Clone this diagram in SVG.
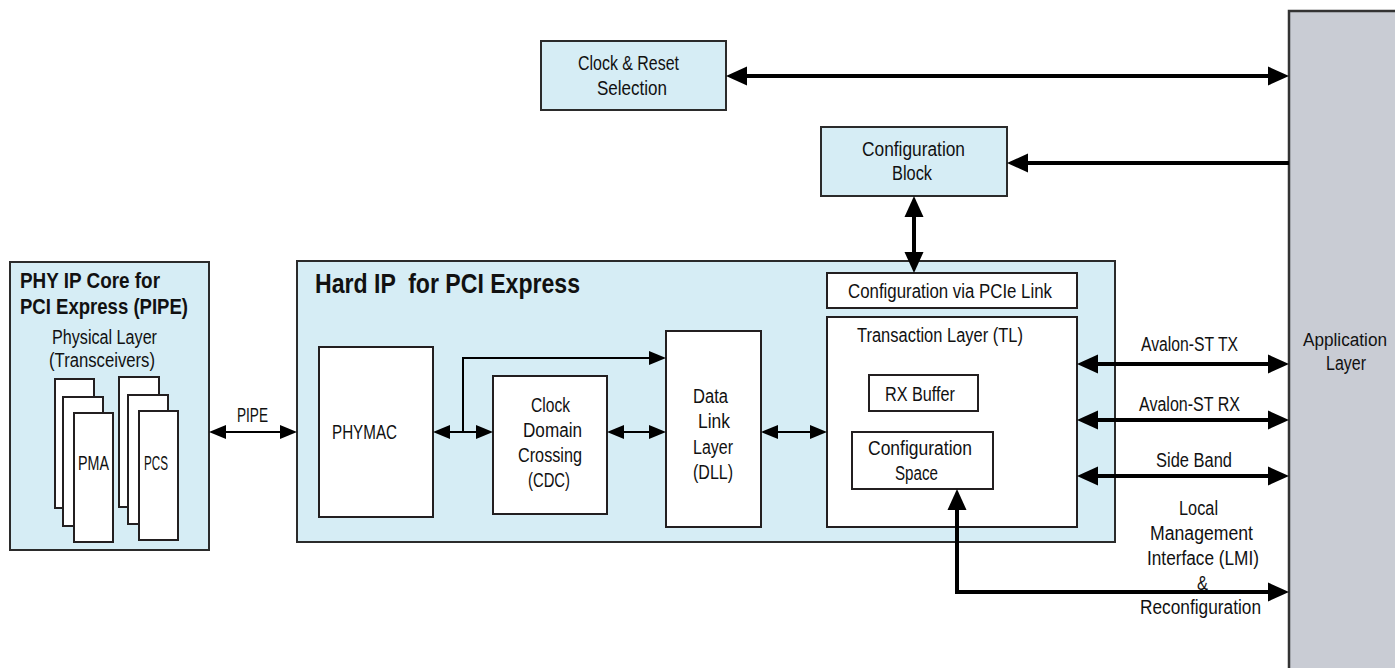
<svg xmlns="http://www.w3.org/2000/svg" width="1395" height="668" viewBox="0 0 1395 668">
<defs>
<style>
.t{font-family:"Liberation Sans Narrow","Liberation Sans",Arial,sans-serif;font-size:20px;fill:#111}
.b{font-family:"Liberation Sans Narrow","Liberation Sans",Arial,sans-serif;font-weight:bold;fill:#111}
.blue{fill:#d6edf5;stroke:#2b2b2b;stroke-width:2}
.wht{fill:#fff;stroke:#231f20;stroke-width:2}
.app{fill:#c9ccd4;stroke:#333;stroke-width:2.5}
.thin{fill:none;stroke:#000;stroke-width:2}
.thick{fill:none;stroke:#000;stroke-width:4}
</style>
<marker id="ah" markerUnits="userSpaceOnUse" markerWidth="18" markerHeight="16" refX="1" refY="7" orient="auto-start-reverse" viewBox="0 0 18 14">
<path d="M0,0 L17,7 L0,14 z" fill="#000"/>
</marker>
<marker id="AH" markerUnits="userSpaceOnUse" markerWidth="22" markerHeight="20" refX="1" refY="9.5" orient="auto-start-reverse" viewBox="0 0 22 19">
<path d="M0,0 L21,9.5 L0,19 z" fill="#000"/>
</marker>
</defs>
<rect width="1395" height="668" fill="#fff"/>

<g id="app-layer">
<rect class="app" x="1289" y="11" width="112" height="662"/>
<text class="t" x="1345" y="346" text-anchor="middle" style="font-size:18px" textLength="84" lengthAdjust="spacingAndGlyphs">Application</text>
<text class="t" x="1346" y="370" text-anchor="middle" textLength="40" lengthAdjust="spacingAndGlyphs">Layer</text>
</g>

<g id="phy">
<rect class="blue" x="10" y="262" width="199" height="288"/>
<text class="b" font-size="22" x="20" y="288" textLength="140" lengthAdjust="spacingAndGlyphs">PHY IP Core for</text>
<text class="b" font-size="22" x="20" y="314" textLength="168" lengthAdjust="spacingAndGlyphs">PCI Express (PIPE)</text>
<text class="t" x="52" y="344" textLength="105" lengthAdjust="spacingAndGlyphs">Physical Layer</text>
<text class="t" x="49" y="367" textLength="106" lengthAdjust="spacingAndGlyphs">(Transceivers)</text>
</g>
<g id="pma">
<rect class="wht" x="55" y="379" width="39" height="129"/>
<rect class="wht" x="63" y="397" width="40" height="129"/>
<rect class="wht" x="74" y="413" width="39" height="129"/>
<text class="t" x="78" y="470" textLength="31" lengthAdjust="spacingAndGlyphs">PMA</text>
</g>
<g id="pcs">
<rect class="wht" x="119" y="377" width="40" height="130"/>
<rect class="wht" x="128" y="395" width="40" height="129"/>
<rect class="wht" x="139" y="411" width="39" height="129"/>
<text class="t" x="144" y="470" textLength="24" lengthAdjust="spacingAndGlyphs">PCS</text>
</g>

<g id="hard-ip">
<rect class="blue" x="297" y="261" width="818" height="281"/>
<text class="b" font-size="27" x="315" y="293" textLength="265" lengthAdjust="spacingAndGlyphs" style="white-space:pre">Hard IP  for PCI Express</text>
</g>
<g id="phymac">
<rect class="wht" x="319" y="347" width="114" height="170"/>
<text class="t" x="332" y="439" textLength="65" lengthAdjust="spacingAndGlyphs">PHYMAC</text>
</g>
<g id="cdc">
<rect class="wht" x="493" y="376" width="114" height="138"/>
<text class="t" x="531" y="412" textLength="39" lengthAdjust="spacingAndGlyphs">Clock</text>
<text class="t" x="523" y="437" textLength="59" lengthAdjust="spacingAndGlyphs">Domain</text>
<text class="t" x="518" y="462" textLength="64" lengthAdjust="spacingAndGlyphs">Crossing</text>
<text class="t" x="528" y="487" textLength="42" lengthAdjust="spacingAndGlyphs">(CDC)</text>
</g>
<g id="dll">
<rect class="wht" x="666" y="331" width="95" height="196"/>
<text class="t" x="693" y="403" textLength="35" lengthAdjust="spacingAndGlyphs">Data</text>
<text class="t" x="698" y="428" textLength="32" lengthAdjust="spacingAndGlyphs">Link</text>
<text class="t" x="693" y="454" textLength="40" lengthAdjust="spacingAndGlyphs">Layer</text>
<text class="t" x="693" y="479" textLength="40" lengthAdjust="spacingAndGlyphs">(DLL)</text>
</g>
<g id="cfg-pcie">
<rect class="wht" x="827" y="273" width="250" height="35"/>
<text class="t" x="848" y="298" textLength="204" lengthAdjust="spacingAndGlyphs">Configuration via PCIe Link</text>
</g>
<g id="tl">
<rect class="wht" x="827" y="317" width="250" height="210"/>
<text class="t" x="857" y="342" textLength="166" lengthAdjust="spacingAndGlyphs">Transaction Layer (TL)</text>
</g>
<g id="rx-buffer">
<rect class="wht" x="869" y="375" width="109" height="36"/>
<text class="t" x="885" y="401" textLength="70" lengthAdjust="spacingAndGlyphs">RX Buffer</text>
</g>
<g id="cfg-space">
<rect class="wht" x="852" y="432" width="141" height="57"/>
<text class="t" x="868" y="455" textLength="104" lengthAdjust="spacingAndGlyphs">Configuration</text>
<text class="t" x="895" y="480" textLength="43" lengthAdjust="spacingAndGlyphs">Space</text>
</g>
<g id="clock-reset">
<rect class="blue" x="541" y="41" width="185" height="69"/>
<text class="t" x="578" y="70" textLength="101" lengthAdjust="spacingAndGlyphs">Clock &amp; Reset</text>
<text class="t" x="597" y="95" textLength="70" lengthAdjust="spacingAndGlyphs">Selection</text>
</g>
<g id="cfg-block">
<rect class="blue" x="821" y="127" width="186" height="69"/>
<text class="t" x="862" y="156" textLength="103" lengthAdjust="spacingAndGlyphs">Configuration</text>
<text class="t" x="892" y="180" textLength="40" lengthAdjust="spacingAndGlyphs">Block</text>
</g>

<g id="connectors">
<line class="thin" x1="225" y1="432" x2="281" y2="432" marker-start="url(#ah)" marker-end="url(#ah)"/>
<line class="thin" x1="449" y1="432" x2="477" y2="432" marker-start="url(#ah)" marker-end="url(#ah)"/>
<polyline class="thin" points="463,432 463,358 650,358" marker-end="url(#ah)"/>
<line class="thin" x1="623" y1="432" x2="650" y2="432" marker-start="url(#ah)" marker-end="url(#ah)"/>
<line class="thin" x1="777" y1="432" x2="811" y2="432" marker-start="url(#ah)" marker-end="url(#ah)"/>
<line class="thick" x1="746" y1="76" x2="1269" y2="76" marker-start="url(#AH)" marker-end="url(#AH)"/>
<line class="thick" x1="1289" y1="163" x2="1027" y2="163" marker-end="url(#AH)"/>
<line class="thick" x1="914" y1="216" x2="914" y2="253" marker-start="url(#AH)" marker-end="url(#AH)"/>
<line class="thick" x1="1097" y1="364" x2="1269" y2="364" marker-start="url(#AH)" marker-end="url(#AH)"/>
<line class="thick" x1="1097" y1="420" x2="1269" y2="420" marker-start="url(#AH)" marker-end="url(#AH)"/>
<line class="thick" x1="1097" y1="476" x2="1269" y2="476" marker-start="url(#AH)" marker-end="url(#AH)"/>
<polyline class="thick" points="957,509 957,592 1269,592" marker-start="url(#AH)" marker-end="url(#AH)"/>
<text class="t" x="237" y="422" textLength="31" lengthAdjust="spacingAndGlyphs">PIPE</text>
<text class="t" x="1141" y="351" textLength="97" lengthAdjust="spacingAndGlyphs">Avalon-ST TX</text>
<text class="t" x="1139" y="411" textLength="101" lengthAdjust="spacingAndGlyphs">Avalon-ST RX</text>
<text class="t" x="1156" y="467" textLength="76" lengthAdjust="spacingAndGlyphs">Side Band</text>
<text class="t" x="1179" y="515" textLength="39" lengthAdjust="spacingAndGlyphs">Local</text>
<text class="t" x="1150" y="540" textLength="103" lengthAdjust="spacingAndGlyphs">Management</text>
<text class="t" x="1147" y="565" textLength="112" lengthAdjust="spacingAndGlyphs">Interface (LMI)</text>
<text class="t" x="1197" y="590" textLength="11" lengthAdjust="spacingAndGlyphs">&amp;</text>
<text class="t" x="1140" y="614" textLength="121" lengthAdjust="spacingAndGlyphs">Reconfiguration</text>
</g>
</svg>
